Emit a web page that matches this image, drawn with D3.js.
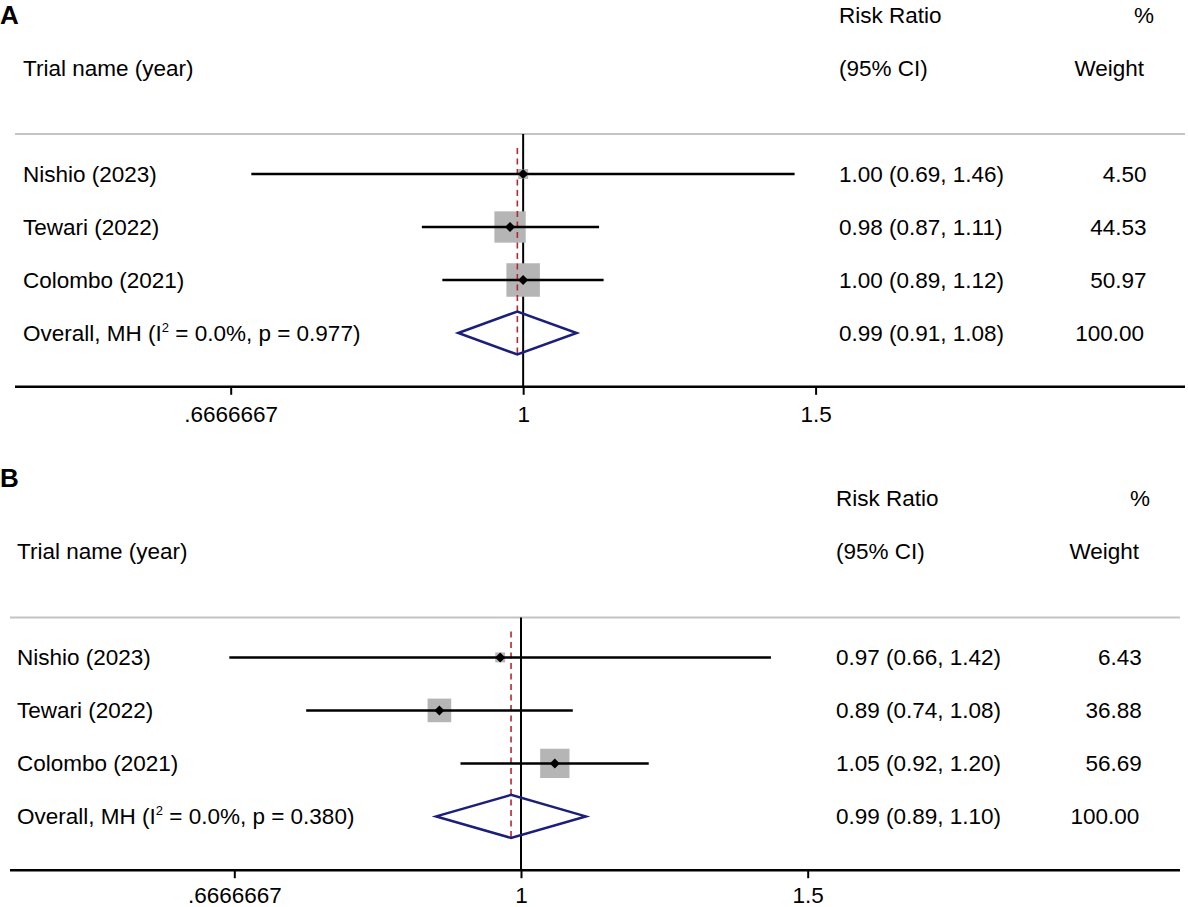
<!DOCTYPE html>
<html lang="en">
<head>
  <meta charset="utf-8">
  <title>Forest plots A and B</title>
  <script src="https://cdn.jsdelivr.net/npm/d3@7"></script>
  <style>
    body { margin: 0; background: #fff; }
    svg { display: block; font-family: "Liberation Sans", Arial, sans-serif; }
  </style>
</head>
<body>
<svg id="chart" width="1188" height="907"></svg>
<script>
// trials (same order in both panels)
const trials = ["Nishio (2023)", "Tewari (2022)", "Colombo (2021)"];

// x axis ticks
const tickValues = [2 / 3, 1, 1.5];
const tickLabels = [".6666667", "1", "1.5"];

// panel A
const rrA = [1.00, 0.982, 1.00];
const loA = [0.686, 0.869, 0.894];
const hiA = [1.457, 1.111, 1.118];
const weightA = [4.50, 44.53, 50.97];
const overallA = [0.992, 0.914, 1.077]; // rr, lo, hi
const i2A = 0.0, pA = 0.977;

// panel B
const rrB = [0.971, 0.891, 1.049];
const loB = [0.662, 0.738, 0.918];
const hiB = [1.424, 1.076, 1.198];
const weightB = [6.43, 36.88, 56.69];
const overallB = [0.986, 0.887, 1.096];
const i2B = 0.0, pB = 0.380;

const svg = d3.select("#chart");
const f2 = d3.format(".2f");
const FS = 22.5;

// layout per panel (Stata exported them at slightly different sizes)
const panels = [
  { letter: "A", letterY: 24, dy: 0,
    rr: rrA, lo: loA, hi: hiA, w: weightA, overall: overallA, i2: i2A, p: pA,
    labelX: 23, ciX: 839, wX: 1146.5, pctX: 1154, weightHeadX: 1144,
    x0: 15, x1: 1185, range: [230.7, 815.6], boxMax: 33.5, tickPad: 11 },
  { letter: "B", letterY: 487, dy: 483.4,
    rr: rrB, lo: loB, hi: hiB, w: weightB, overall: overallB, i2: i2B, p: pB,
    labelX: 17, ciX: 836, wX: 1141.8, pctX: 1150, weightHeadX: 1139,
    x0: 10, x1: 1180, range: [234.3, 807.7], boxMax: 29.3, tickPad: 9 }
];

panels.forEach(function(P) {
  svg.append("text")
    .attr("x", 0).attr("y", P.letterY)
    .attr("font-size", 26).attr("font-weight", "bold")
    .text(P.letter);

  const g = svg.append("g").attr("transform", "translate(0," + P.dy + ")");

  const x = d3.scaleLog().domain([tickValues[0], tickValues[2]]).range(P.range);
  const y = d3.scalePoint().domain(trials.concat(["Overall"])).range([174, 333]);
  const box = d3.scaleSqrt().domain([0, d3.max(P.w)]).range([0, P.boxMax]);

  const rows = trials.map(function(t, i) {
    return { name: t, rr: P.rr[i], lo: P.lo[i], hi: P.hi[i], w: P.w[i] };
  });

  // headers
  const head = g.append("g").attr("font-size", FS).attr("fill", "#000");
  head.append("text").attr("x", P.labelX).attr("y", 76).text("Trial name (year)");
  head.append("text").attr("x", P.ciX).attr("y", 23).text("Risk Ratio");
  head.append("text").attr("x", P.ciX).attr("y", 76).text("(95% CI)");
  head.append("text").attr("x", P.pctX).attr("y", 23).attr("text-anchor", "end").text("%");
  head.append("text").attr("x", P.weightHeadX).attr("y", 76).attr("text-anchor", "end").text("Weight");

  // grey rule under headers
  g.append("line")
    .attr("x1", P.x0).attr("x2", P.x1).attr("y1", 134).attr("y2", 134)
    .attr("stroke", "#c4c4c4").attr("stroke-width", 2);

  // null line
  g.append("line")
    .attr("x1", x(1)).attr("x2", x(1)).attr("y1", 134).attr("y2", 386.8)
    .attr("stroke", "#000").attr("stroke-width", 2);

  // weight boxes
  g.selectAll("rect.box").data(rows).enter().append("rect")
    .attr("class", "box")
    .attr("x", function(d) { return x(d.rr) - box(d.w) / 2; })
    .attr("y", function(d) { return y(d.name) - box(d.w) / 2; })
    .attr("width", function(d) { return box(d.w); })
    .attr("height", function(d) { return box(d.w); })
    .attr("fill", "#b5b5b5");

  // overall dashed line
  g.append("line")
    .attr("x1", x(P.overall[0])).attr("x2", x(P.overall[0]))
    .attr("y1", y(trials[0]) - 26).attr("y2", y("Overall") + 23)
    .attr("stroke", "#b22a30").attr("stroke-width", 1.6)
    .attr("stroke-dasharray", "6,4.5");

  // CI lines
  g.selectAll("line.ci").data(rows).enter().append("line")
    .attr("class", "ci")
    .attr("x1", function(d) { return x(d.lo); })
    .attr("x2", function(d) { return x(d.hi); })
    .attr("y1", function(d) { return y(d.name); })
    .attr("y2", function(d) { return y(d.name); })
    .attr("stroke", "#000").attr("stroke-width", 2.5);

  // point estimates (small diamonds)
  g.selectAll("path.pt").data(rows).enter().append("path")
    .attr("class", "pt")
    .attr("d", function(d) {
      const cx = x(d.rr), cy = y(d.name), r = 5;
      return "M" + cx + "," + (cy - r) + "L" + (cx + r) + "," + cy +
             "L" + cx + "," + (cy + r) + "L" + (cx - r) + "," + cy + "Z";
    })
    .attr("fill", "#000");

  // pooled diamond
  const oy = y("Overall"), h = 21.5;
  g.append("path")
    .attr("d", d3.line()([
      [x(P.overall[1]), oy], [x(P.overall[0]), oy - h],
      [x(P.overall[2]), oy], [x(P.overall[0]), oy + h]
    ]) + "Z")
    .attr("fill", "none").attr("stroke", "#1b1f7a").attr("stroke-width", 2.5);

  // row text
  const txt = g.append("g").attr("font-size", FS).attr("fill", "#000");
  txt.selectAll("text.lab").data(rows).enter().append("text")
    .attr("class", "lab")
    .attr("x", P.labelX).attr("y", function(d) { return y(d.name) + 8; })
    .text(function(d) { return d.name; });

  const ov = txt.append("text").attr("x", P.labelX).attr("y", oy + 8);
  ov.append("tspan").text("Overall, MH (I");
  ov.append("tspan").attr("font-size", 13).attr("dy", -9).text("2");
  ov.append("tspan").attr("dy", 9).text(" = " + d3.format(".1f")(P.i2) + "%, p = " + d3.format(".3f")(P.p) + ")");

  txt.selectAll("text.ci").data(rows).enter().append("text")
    .attr("class", "ci")
    .attr("x", P.ciX).attr("y", function(d) { return y(d.name) + 8; })
    .text(function(d) { return f2(d.rr) + " (" + f2(d.lo) + ", " + f2(d.hi) + ")"; });
  txt.append("text")
    .attr("x", P.ciX).attr("y", oy + 8)
    .text(f2(P.overall[0]) + " (" + f2(P.overall[1]) + ", " + f2(P.overall[2]) + ")");

  txt.selectAll("text.wt").data(rows).enter().append("text")
    .attr("class", "wt")
    .attr("x", P.wX).attr("y", function(d) { return y(d.name) + 8; })
    .attr("text-anchor", "end")
    .text(function(d) { return f2(d.w); });
  txt.append("text")
    .attr("x", P.wX - 2.5).attr("y", oy + 8)
    .attr("text-anchor", "end")
    .text(f2(d3.sum(P.w)));

  // x axis
  const axis = g.append("g")
    .attr("transform", "translate(0,386.8)")
    .call(d3.axisBottom(x)
      .tickValues(tickValues)
      .tickFormat(function(d, i) { return tickLabels[i]; })
      .tickSize(8).tickPadding(P.tickPad));
  axis.select(".domain").remove();
  axis.selectAll(".tick line").attr("stroke", "#000").attr("stroke-width", 2);
  axis.selectAll(".tick text")
    .attr("font-size", FS).attr("fill", "#000")
    .attr("font-family", "\"Liberation Sans\", Arial, sans-serif");
  g.append("line")
    .attr("x1", P.x0).attr("x2", P.x1).attr("y1", 386.8).attr("y2", 386.8)
    .attr("stroke", "#000").attr("stroke-width", 2.6);
});
</script>
</body>
</html>
